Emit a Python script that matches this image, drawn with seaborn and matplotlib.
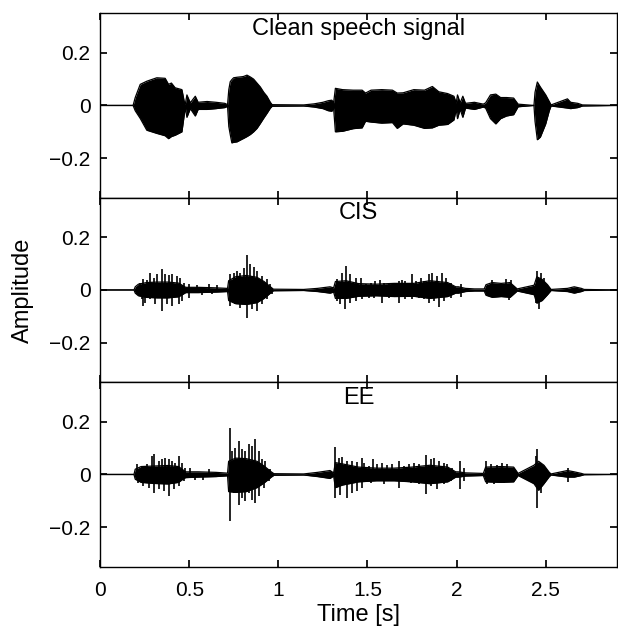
"""
Speech waveform comparison: clean signal vs. CIS and EE vocoded versions.
Envelopes and spikes were read off the original figure.
"""

import matplotlib

matplotlib.use("Agg")
import matplotlib.pyplot as plt
import pandas as pd
import seaborn as sns

X_MAX = 2.9
Y_LIM = 0.35
Y_TICKS = [-0.2, 0, 0.2]
Y_TICK_LABELS = ["\u22120.2", "0", "0.2"]
X_TICKS = [0, 0.5, 1, 1.5, 2, 2.5]
X_TICK_LABELS = ["0", "0.5", "1", "1.5", "2", "2.5"]
PANEL_TITLES = ["Clean speech signal", "CIS", "EE"]

# clean speech envelope: time, upper, lower
CLEAN_T = [0.000, 0.185, 0.197, 0.225, 0.262, 0.318, 0.365, 0.384, 0.400, 0.421,
           0.459, 0.472, 0.478, 0.487, 0.506, 0.534, 0.550, 0.600, 0.650, 0.700,
           0.715, 0.722, 0.730, 0.739, 0.749, 0.768, 0.796, 0.805, 0.824, 0.843,
           0.861, 0.880, 0.899, 0.918, 0.936, 0.955, 0.965, 1.142, 1.200, 1.250,
           1.280, 1.300, 1.310, 1.320, 1.360, 1.420, 1.470, 1.489, 1.520, 1.580,
           1.640, 1.667, 1.700, 1.760, 1.820, 1.864, 1.900, 1.950, 1.985, 1.998,
           2.005, 2.020, 2.035, 2.050, 2.100, 2.150, 2.163, 2.190, 2.220, 2.247,
           2.280, 2.320, 2.345, 2.434, 2.440, 2.453, 2.470, 2.500, 2.520, 2.530,
           2.622, 2.640, 2.680, 2.706, 2.900]
CLEAN_UP = [0.000, 0.000, 0.030, 0.080, 0.092, 0.105, 0.103, 0.080, 0.085, 0.067,
            0.060, 0.015, 0.005, 0.040, 0.010, 0.035, 0.012, 0.015, 0.012, 0.008,
            0.003, 0.060, 0.090, 0.098, 0.105, 0.107, 0.109, 0.110, 0.115, 0.108,
            0.100, 0.085, 0.070, 0.050, 0.035, 0.012, 0.003, 0.002, 0.006, 0.012,
            0.018, 0.020, 0.010, 0.065, 0.060, 0.058, 0.058, 0.047, 0.058, 0.060,
            0.058, 0.047, 0.048, 0.060, 0.058, 0.072, 0.052, 0.045, 0.035, 0.010,
            0.040, 0.010, 0.035, 0.008, 0.012, 0.005, 0.010, 0.040, 0.043, 0.030,
            0.030, 0.028, 0.005, 0.000, 0.050, 0.089, 0.070, 0.040, 0.015, 0.002,
            0.025, 0.012, 0.008, 0.002, 0.000]
CLEAN_LO = [0.000, 0.000, -0.020, -0.049, -0.094, -0.106, -0.115, -0.126, -0.118, -0.113,
            -0.100, -0.036, -0.008, -0.045, -0.012, -0.040, -0.015, -0.015, -0.012, -0.008,
            -0.003, -0.080, -0.110, -0.142, -0.140, -0.138, -0.128, -0.125, -0.118, -0.110,
            -0.100, -0.087, -0.068, -0.048, -0.030, -0.010, -0.003, -0.002, -0.006, -0.012,
            -0.020, -0.022, -0.010, -0.100, -0.098, -0.088, -0.085, -0.060, -0.063, -0.067,
            -0.065, -0.087, -0.070, -0.075, -0.087, -0.085, -0.075, -0.072, -0.055, -0.015,
            -0.050, -0.015, -0.045, -0.010, -0.015, -0.006, -0.010, -0.050, -0.070, -0.050,
            -0.040, -0.035, -0.005, 0.000, -0.060, -0.130, -0.120, -0.070, -0.020, -0.002,
            -0.010, -0.012, -0.008, -0.002, 0.000]

# CIS envelope (solid core of the signal)
CIS_T = [0.000, 0.190, 0.197, 0.215, 0.260, 0.320, 0.380, 0.440, 0.468, 0.480,
         0.550, 0.650, 0.715, 0.721, 0.760, 0.820, 0.880, 0.920, 0.950, 0.972,
         1.142, 1.220, 1.290, 1.310, 1.320, 1.380, 1.450, 1.550, 1.650, 1.760,
         1.850, 1.950, 1.995, 2.010, 2.050, 2.100, 2.155, 2.165, 2.200, 2.250,
         2.300, 2.340, 2.435, 2.450, 2.480, 2.510, 2.530, 2.622, 2.660, 2.700,
         2.715, 2.900]
CIS_UP = [0.000, 0.000, 0.012, 0.022, 0.028, 0.030, 0.030, 0.026, 0.015, 0.010,
          0.010, 0.008, 0.006, 0.035, 0.050, 0.055, 0.048, 0.032, 0.015, 0.003,
          0.002, 0.006, 0.012, 0.008, 0.032, 0.035, 0.024, 0.022, 0.025, 0.025,
          0.035, 0.028, 0.012, 0.012, 0.006, 0.004, 0.004, 0.020, 0.028, 0.025,
          0.028, 0.004, 0.018, 0.050, 0.040, 0.020, 0.002, 0.006, 0.012, 0.006,
          0.002, 0.000]
CIS_LO = [0.000, 0.000, -0.012, -0.022, -0.028, -0.030, -0.030, -0.026, -0.015, -0.010,
          -0.010, -0.008, -0.006, -0.040, -0.052, -0.055, -0.048, -0.032, -0.015, -0.003,
          -0.002, -0.006, -0.012, -0.008, -0.032, -0.032, -0.024, -0.022, -0.025, -0.024,
          -0.032, -0.025, -0.012, -0.012, -0.006, -0.004, -0.004, -0.020, -0.028, -0.025,
          -0.028, -0.004, -0.018, -0.050, -0.040, -0.018, -0.002, -0.006, -0.012, -0.006,
          -0.002, 0.000]
CIS_SPIKE_T = [0.225, 0.243, 0.262, 0.281, 0.300, 0.318, 0.346, 0.365, 0.384, 0.403,
               0.431, 0.449, 0.468, 0.234, 0.240, 0.253, 0.281, 0.309, 0.346, 0.375,
               0.403, 0.440, 0.459, 0.496, 0.496, 0.543, 0.570, 0.609, 0.630, 0.655,
               0.730, 0.749, 0.768, 0.787, 0.805, 0.824, 0.843, 0.861, 0.880, 0.908,
               0.936, 0.955, 0.730, 0.758, 0.787, 0.824, 0.852, 0.880, 0.908, 0.936,
               0.964, 1.330, 1.358, 1.380, 1.404, 1.433, 1.461, 1.489, 1.517, 1.545,
               1.573, 1.592, 1.620, 1.648, 1.676, 1.695, 1.713, 1.747, 1.770, 1.798,
               1.816, 1.845, 1.863, 1.891, 1.919, 1.938, 1.966, 1.330, 1.348, 1.376,
               1.404, 1.433, 1.470, 1.507, 1.536, 1.582, 1.620, 1.676, 1.713, 1.751,
               1.788, 1.816, 1.845, 1.873, 1.901, 1.929, 1.966, 2.022, 2.022, 2.200,
               2.275, 2.303, 2.294, 2.445, 2.453, 2.463, 2.472, 2.491]
CIS_SPIKE_V = [0.028, 0.041, 0.037, 0.064, 0.047, 0.060, 0.079, 0.060, 0.057, 0.060,
               0.054, 0.047, 0.028, -0.036, -0.062, -0.048, -0.036, -0.055, -0.080, -0.055,
               -0.061, -0.055, -0.042, 0.024, -0.032, 0.019, -0.018, 0.022, -0.017, 0.019,
               0.060, 0.066, 0.073, 0.066, 0.085, 0.134, 0.098, 0.088, 0.073, 0.054,
               0.041, 0.022, -0.061, -0.055, -0.068, -0.106, -0.074, -0.080, -0.055, -0.036,
               -0.017, 0.041, 0.066, 0.092, 0.060, 0.047, 0.045, 0.022, 0.028, 0.034,
               0.037, 0.028, 0.022, 0.028, 0.034, 0.037, 0.034, 0.060, 0.034, 0.047,
               0.034, 0.060, 0.066, 0.054, 0.064, 0.047, 0.028, -0.042, -0.055, -0.074,
               -0.048, -0.042, -0.036, -0.032, -0.029, -0.048, -0.029, -0.048, -0.036, -0.036,
               -0.029, -0.036, -0.048, -0.042, -0.065, -0.042, -0.029, 0.024, -0.027, 0.037,
               0.041, 0.037, -0.039, -0.050, 0.073, -0.074, 0.066, 0.047]

# EE envelope (solid core of the signal)
EE_T = [0.000, 0.190, 0.197, 0.230, 0.300, 0.380, 0.440, 0.470, 0.480, 0.550,
        0.650, 0.715, 0.721, 0.760, 0.820, 0.880, 0.920, 0.960, 0.975, 1.142,
        1.220, 1.290, 1.310, 1.320, 1.360, 1.450, 1.550, 1.650, 1.750, 1.850,
        1.950, 1.995, 2.010, 2.050, 2.150, 2.163, 2.250, 2.320, 2.345, 2.434,
        2.460, 2.490, 2.520, 2.530, 2.622, 2.660, 2.700, 2.715, 2.900]
EE_UP = [0.000, 0.000, 0.020, 0.030, 0.032, 0.034, 0.030, 0.015, 0.010, 0.010,
         0.008, 0.005, 0.050, 0.062, 0.060, 0.050, 0.032, 0.010, 0.003, 0.002,
         0.008, 0.015, 0.006, 0.045, 0.040, 0.028, 0.024, 0.024, 0.028, 0.035,
         0.028, 0.010, 0.010, 0.006, 0.004, 0.028, 0.030, 0.028, 0.004, 0.035,
         0.050, 0.035, 0.008, 0.002, 0.015, 0.010, 0.004, 0.001, 0.000]
EE_LO = [0.000, 0.000, -0.018, -0.030, -0.034, -0.036, -0.030, -0.015, -0.012, -0.010,
         -0.008, -0.005, -0.065, -0.068, -0.065, -0.050, -0.032, -0.010, -0.003, -0.002,
         -0.008, -0.015, -0.006, -0.050, -0.040, -0.028, -0.024, -0.024, -0.028, -0.035,
         -0.028, -0.010, -0.010, -0.006, -0.004, -0.028, -0.030, -0.028, -0.004, -0.035,
         -0.060, -0.035, -0.008, -0.002, -0.010, -0.010, -0.004, -0.001, 0.000]
EE_SPIKE_T = [0.206, 0.234, 0.262, 0.290, 0.303, 0.328, 0.346, 0.365, 0.384, 0.403,
              0.421, 0.440, 0.459, 0.478, 0.215, 0.243, 0.272, 0.300, 0.328, 0.356,
              0.384, 0.412, 0.440, 0.468, 0.506, 0.609, 0.530, 0.580, 0.727, 0.740,
              0.758, 0.777, 0.796, 0.815, 0.833, 0.852, 0.871, 0.890, 0.908, 0.927,
              0.955, 0.727, 0.749, 0.777, 0.796, 0.815, 0.833, 0.852, 0.871, 0.890,
              0.918, 0.946, 1.320, 1.339, 1.358, 1.386, 1.414, 1.442, 1.470, 1.479,
              1.507, 1.532, 1.554, 1.582, 1.610, 1.639, 1.676, 1.704, 1.732, 1.760,
              1.788, 1.830, 1.854, 1.876, 1.901, 1.929, 1.948, 1.976, 2.019, 2.041,
              2.163, 2.191, 2.228, 2.257, 2.285, 2.313, 1.320, 1.348, 1.386, 1.414,
              1.442, 1.470, 1.517, 1.592, 1.676, 1.742, 1.788, 1.830, 1.854, 1.891,
              1.929, 1.966, 2.019, 2.041, 2.172, 2.210, 2.266, 2.303, 2.444, 2.449,
              2.453, 2.472, 2.625, 2.625]
EE_SPIKE_V = [0.041, 0.032, 0.038, 0.070, 0.076, 0.053, 0.057, 0.063, 0.057, 0.051,
              0.044, 0.070, 0.044, 0.025, -0.032, -0.044, -0.051, -0.070, -0.057, -0.063,
              -0.082, -0.057, -0.044, -0.025, 0.025, 0.022, -0.020, -0.020, 0.177, 0.089,
              0.101, 0.127, 0.095, 0.089, 0.114, 0.108, 0.133, 0.089, 0.057, 0.051,
              0.019, -0.175, -0.070, -0.114, -0.089, -0.101, -0.070, -0.095, -0.108, -0.082,
              -0.051, -0.025, 0.104, 0.063, 0.066, 0.051, 0.051, 0.048, 0.063, 0.044,
              0.032, 0.057, 0.041, 0.044, 0.035, 0.038, 0.051, 0.032, 0.038, 0.044,
              0.038, 0.072, 0.057, 0.061, 0.051, 0.044, 0.038, 0.025, 0.051, 0.025,
              0.051, 0.038, 0.035, 0.044, 0.038, 0.025, -0.089, -0.076, -0.091, -0.070,
              -0.063, -0.051, -0.032, -0.038, -0.051, -0.032, -0.038, -0.073, -0.044, -0.057,
              -0.038, -0.025, -0.057, -0.025, -0.038, -0.035, -0.032, -0.025, 0.070, -0.127,
              0.097, -0.070, 0.025, -0.030]


def configure_plot_style() -> None:
    """MATLAB-like look: inward ticks on every side, Helvetica-like font."""
    sns.set_theme(style="ticks")
    plt.rcParams["font.family"] = ["Liberation Sans", "DejaVu Sans"]
    plt.rcParams["axes.unicode_minus"] = True
    plt.rcParams["text.color"] = "black"
    plt.rcParams["axes.labelcolor"] = "black"
    plt.rcParams["xtick.color"] = "black"
    plt.rcParams["ytick.color"] = "black"
    plt.rcParams["axes.edgecolor"] = "black"
    plt.rcParams["axes.linewidth"] = 1.0
    plt.rcParams["xtick.direction"] = "in"
    plt.rcParams["ytick.direction"] = "in"
    plt.rcParams["xtick.top"] = True
    plt.rcParams["ytick.right"] = True
    plt.rcParams["xtick.major.size"] = 5
    plt.rcParams["ytick.major.size"] = 5


def draw_waveform(ax, times, upper, lower, spike_t=None, spike_v=None) -> None:
    """Fill the amplitude envelope and add the individual spikes."""
    env = pd.DataFrame({"t": times, "up": upper, "lo": lower})
    ax.fill_between(env["t"], env["lo"], env["up"], color="black", linewidth=0)
    for col in ["up", "lo"]:
        sns.lineplot(data=env, x="t", y=col, ax=ax, color="black",
                     linewidth=0.9, sort=False, estimator=None)
    if spike_t is not None:
        ax.vlines(spike_t, 0, spike_v, color="black", linewidth=1.2)


def main() -> None:
    configure_plot_style()
    fig, axes = plt.subplots(3, 1, figsize=(6.18, 6.29), dpi=100, sharex=True)
    fig.subplots_adjust(left=0.162, right=0.9984, top=0.979, bottom=0.099, hspace=0)

    panels = [
        (CLEAN_T, CLEAN_UP, CLEAN_LO, None, None),
        (CIS_T, CIS_UP, CIS_LO, CIS_SPIKE_T, CIS_SPIKE_V),
        (EE_T, EE_UP, EE_LO, EE_SPIKE_T, EE_SPIKE_V),
    ]

    for ax, (t, up, lo, st, sv), title in zip(axes, panels, PANEL_TITLES):
        draw_waveform(ax, t, up, lo, st, sv)
        ax.set_xlim(0, X_MAX)
        ax.set_ylim(-Y_LIM, Y_LIM)
        ax.set_yticks(Y_TICKS)
        ax.set_yticklabels(Y_TICK_LABELS, fontsize=15)
        ax.set_xticks(X_TICKS)
        ax.set_xlabel("")
        ax.set_ylabel("")
        ax.tick_params(axis="y", pad=7)
        ax.tick_params(axis="x", labelbottom=False, pad=10)
        ax.text(0.5, 0.975, title, transform=ax.transAxes, ha="center",
                va="top", fontsize=17)

    axes[-1].tick_params(axis="x", labelbottom=True)
    axes[-1].set_xticklabels(X_TICK_LABELS, fontsize=15)
    axes[-1].set_xlabel("Time [s]", fontsize=17, labelpad=3)
    fig.text(0.037, (0.979 + 0.099) / 2, "Amplitude", rotation=90,
             ha="center", va="center", fontsize=17)

    fig.savefig("out.png", dpi=100)
    plt.close(fig)


if __name__ == "__main__":
    main()
